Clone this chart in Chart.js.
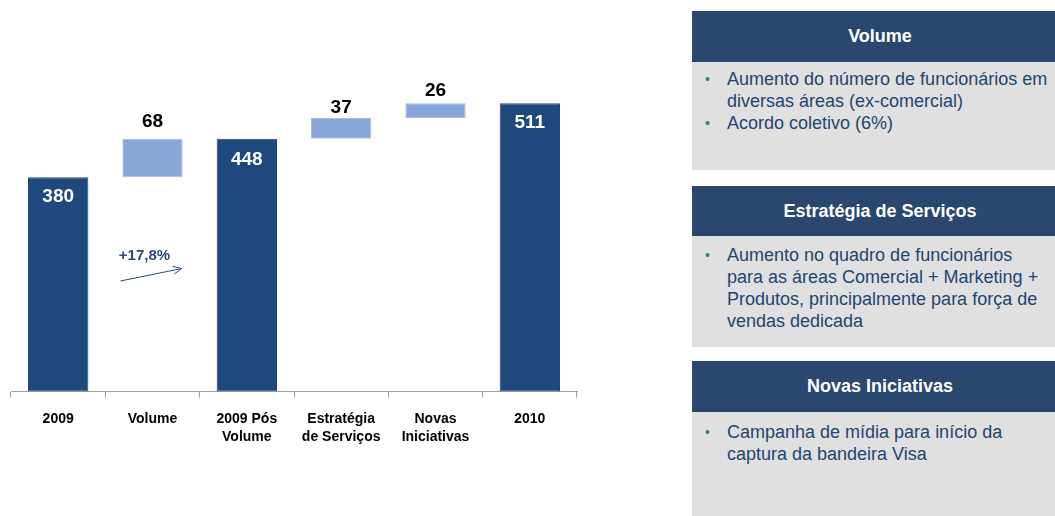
<!DOCTYPE html>
<html>
<head>
<meta charset="utf-8">
<script src="https://cdn.jsdelivr.net/npm/chart.js@4.4.1/dist/chart.umd.min.js"></script>
<style>
  html, body { margin: 0; padding: 0; background: #fff; overflow: hidden; }
  body { width: 1055px; height: 516px; position: relative; font-family: "Liberation Sans", Arial, sans-serif; }
  #chartBox { position: absolute; left: 0; top: 0; width: 590px; height: 470px; }
  .panel { position: absolute; left: 692px; width: 376px; }
  .panel .head { background: #29476f; color: #fff; font-weight: bold; font-size: 18px;
                 text-align: center; }
  .panel .body { background: #e0e0e0; color: #1c4670; font-size: 18px; line-height: 22px; }
  .item { position: relative; padding-left: 35px; white-space: nowrap; }
  .item:before { content: "\2022"; color: #2e8b57; position: absolute; left: 13px; font-size: 14px; }
</style>
</head>
<body>
<div id="chartBox"><canvas id="myChart"></canvas></div>

<div class="panel" style="top:11px">
  <div class="head" style="height:51px;line-height:51px">Volume</div>
  <div class="body" style="height:102px;padding-top:6px">
    <div class="item">Aumento do número de funcionários em<br>diversas áreas (ex-comercial)</div>
    <div class="item">Acordo coletivo (6%)</div>
  </div>
</div>

<div class="panel" style="top:186px">
  <div class="head" style="height:50px;line-height:50px">Estratégia de Serviços</div>
  <div class="body" style="height:103px;padding-top:8px">
    <div class="item">Aumento no quadro de funcionários<br>para as áreas Comercial + Marketing +<br>Produtos, principalmente para força de<br>vendas dedicada</div>
  </div>
</div>

<div class="panel" style="top:361px">
  <div class="head" style="height:51px;line-height:51px">Novas Iniciativas</div>
  <div class="body" style="height:95px;padding-top:9px">
    <div class="item">Campanha de mídia para início da<br>captura da bandeira Visa</div>
  </div>
</div>

<script>
// waterfall data
var categories = [['2009'], ['Volume'], ['2009 Pós', 'Volume'], ['Estratégia', 'de Serviços'], ['Novas', 'Iniciativas'], ['2010']];
var values = [380, 68, 448, 37, 26, 511];
var isTotal = [true, false, true, false, false, true];
var growthLabel = '+17,8%';

var darkBlue = '#1f497d';
var lightBlue = '#87a6d8';
// distance of each value label from the top of its bar (px)
var labelOffsets = [20, -17, 21, -10, -12, 20];

// build floating ranges from the values
var ranges = [];
var running = 0;
for (var i = 0; i < values.length; i++) {
    if (isTotal[i]) {
        ranges.push([0, values[i]]);
        running = values[i];
    } else {
        ranges.push([running, running + values[i]]);
        running += values[i];
    }
}

// draws the value labels and the growth arrow
var labelPlugin = {
    id: 'labels',
    afterDatasetsDraw: function (chart) {
        var ctx = chart.ctx;
        var meta = chart.getDatasetMeta(0);
        ctx.save();
        ctx.textAlign = 'center';
        ctx.textBaseline = 'middle';
        ctx.font = 'bold 19px "Liberation Sans", Arial, sans-serif';
        meta.data.forEach(function (bar, i) {
            ctx.fillStyle = isTotal[i] ? '#ffffff' : '#000000';
            ctx.fillText(values[i], bar.x, bar.y + labelOffsets[i]);
        });

        // growth annotation between 2009 and 2009 Pós Volume
        var xs = chart.scales.x, ys = chart.scales.y;
        var cx = xs.getPixelForValue(1);
        ctx.fillStyle = '#2a4a78';
        ctx.font = 'bold 15px "Liberation Sans", Arial, sans-serif';
        ctx.fillText(growthLabel, cx - 8, ys.getPixelForValue(240));
        var x1 = cx - 32, y1 = ys.getPixelForValue(196);
        var x2 = cx + 29, y2 = ys.getPixelForValue(218);
        ctx.strokeStyle = '#2a4a78';
        ctx.lineWidth = 1;
        ctx.beginPath();
        ctx.moveTo(x1, y1);
        ctx.lineTo(x2, y2);
        var ang = Math.atan2(y2 - y1, x2 - x1);
        ctx.moveTo(x2, y2);
        ctx.lineTo(x2 - 9 * Math.cos(ang - 0.45), y2 - 9 * Math.sin(ang - 0.45));
        ctx.moveTo(x2, y2);
        ctx.lineTo(x2 - 9 * Math.cos(ang + 0.45), y2 - 9 * Math.sin(ang + 0.45));
        ctx.stroke();
        ctx.restore();
    }
};

var ctx = document.getElementById('myChart').getContext('2d');
var myChart = new Chart(ctx, {
    type: 'bar',
    data: {
        labels: categories,
        datasets: [{
            data: ranges,
            backgroundColor: isTotal.map(function (t) { return t ? darkBlue : lightBlue; }),
            borderColor: isTotal.map(function (t) { return t ? darkBlue : '#a9c1e8'; }),
            borderWidth: 1,
            borderSkipped: false,
            barPercentage: 1,
            categoryPercentage: 0.64
        }]
    },
    options: {
        responsive: true,
        maintainAspectRatio: false,
        animation: false,
        layout: { padding: { left: 11, right: 13, top: 53, bottom: 12 } },
        plugins: {
            legend: { display: false },
            tooltip: { enabled: false }
        },
        scales: {
            x: {
                grid: {
                    offset: true,
                    drawOnChartArea: false,
                    drawTicks: true,
                    tickLength: 6,
                    color: '#a0a0a0'
                },
                border: { display: true, color: '#a0a0a0', width: 1 },
                ticks: {
                    color: '#000',
                    padding: 12,
                    maxRotation: 0,
                    font: { family: '"Liberation Sans", Arial, sans-serif', size: 14, weight: 'bold', lineHeight: 1.3 }
                }
            },
            y: {
                display: false,
                min: 0,
                max: 600
            }
        }
    },
    plugins: [labelPlugin]
});
</script>
</body>
</html>
